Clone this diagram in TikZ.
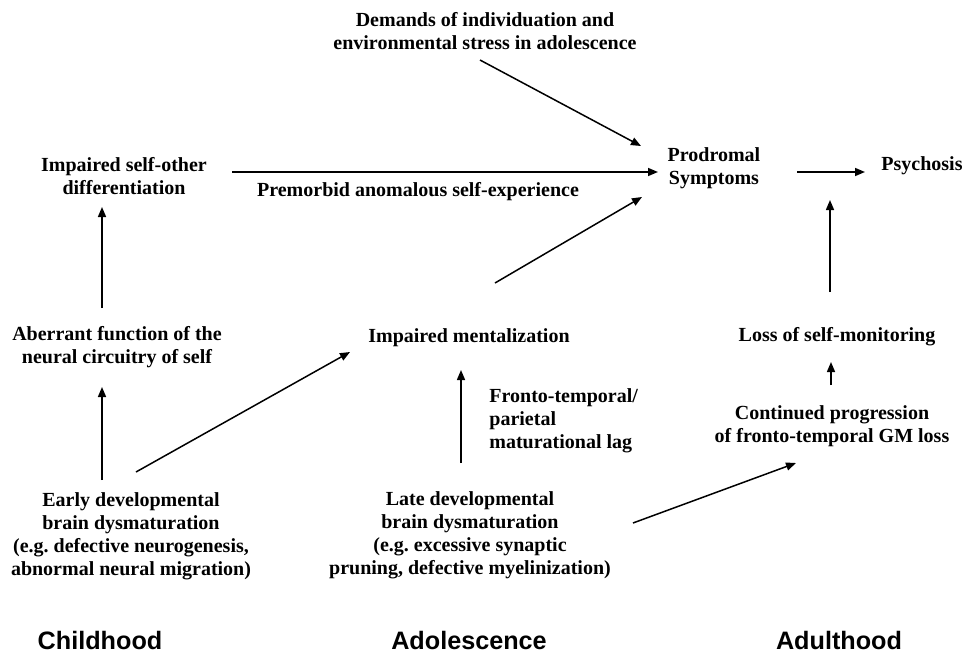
\documentclass[tikz,border=0pt]{standalone}
\usepackage{fontspec}
\setmainfont{Liberation Serif}
\setsansfont{Liberation Sans}
\usetikzlibrary{arrows.meta}
\frenchspacing

\tikzset{
  box/.style={font=\bfseries\fontsize{10}{11.5}\selectfont, align=center, inner sep=0pt},
  period/.style={font=\sffamily\bfseries\fontsize{12.6}{14}\selectfont, inner sep=0pt},
  arr/.style={-{Triangle[length=5pt,width=4pt]}, line width=0.75pt}
}

\begin{document}
\begin{tikzpicture}[x=0.5pt,y=-0.5pt]
        \useasboundingbox (0,0) rectangle (971,654);

        % Define nodes
        \node[box] (demands) at (485,31) {Demands of individuation and\\environmental stress in adolescence};
        \node[box] (prodromal) at (714,168) {Prodromal\\Symptoms};
        \node[box] (psychosis) at (922,166) {Psychosis};
        \node[box] (selfother) at (124,176) {Impaired self-other\\differentiation};
        \node[box] (premorbid) at (418,192) {Premorbid anomalous self-experience};
        \node[box] (aberrant) at (117,347) {Aberrant function of the\\neural circuitry of self};
        \node[box] (mentalization) at (469,338) {Impaired mentalization};
        \node[box] (loss) at (837,337) {Loss of self-monitoring};
        \node[box] (continued) at (832,426) {Continued progression\\of fronto-temporal GM loss};
        \node[box, align=left, anchor=west] (lag) at (489,421) {Fronto-temporal/\\parietal\\maturational lag};
        \node[box] (early) at (131,536) {Early developmental\\brain dysmaturation\\(e.g. defective neurogenesis,\\abnormal neural migration)};
        \node[box] (late) at (470,535) {Late developmental\\brain dysmaturation\\(e.g. excessive synaptic\\pruning, defective myelinization)};

        % Periods
        \node[period] (childhood) at (100,640) {Childhood};
        \node[period] (adolescence) at (469,640) {Adolescence};
        \node[period] (adulthood) at (839,640) {Adulthood};

        % Connect into prodromal symptoms
        \draw[arr] ([shift={(-5,29)}]demands.center) -- ([shift={(-73,-22)}]prodromal.center);
        \draw[arr] ([shift={(108,-4)}]selfother.center) -- ([shift={(-56,4)}]prodromal.center);
        \draw[arr] ([shift={(26,-55)}]mentalization.center) -- ([shift={(-72,29)}]prodromal.center);
        \draw[arr] ([shift={(83,4)}]prodromal.center) -- ([shift={(-57,6)}]psychosis.center);

        % Childhood
        \draw[arr] ([shift={(-15,-39)}]aberrant.center) -- ([shift={(-22,31)}]selfother.center);
        \draw[arr] ([shift={(-29,-56)}]early.center) -- ([shift={(-15,40)}]aberrant.center);
        \draw[arr] ([shift={(5,-64)}]early.center) -- ([shift={(-119,14)}]mentalization.center);

        % Adolescence
        \draw[arr] ([shift={(-9,-72)}]late.center) -- ([shift={(-8,32)}]mentalization.center);
        \draw[arr] ([shift={(163,-12)}]late.center) -- ([shift={(-36,37)}]continued.center);

        % Adulthood
        \draw[arr] ([shift={(-1,-41)}]continued.center) -- ([shift={(-6,25)}]loss.center);
        \draw[arr] ([shift={(-7,-45)}]loss.center) -- ([shift={(-92,34)}]psychosis.center);
    \end{tikzpicture}
\end{document}
